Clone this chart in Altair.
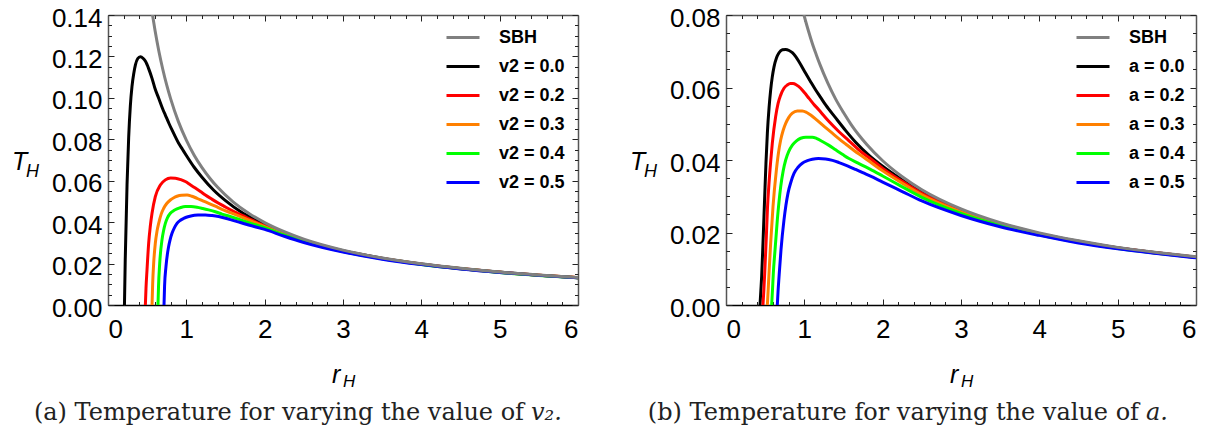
import altair as alt
import pandas as pd

# ---------------- tick positions ----------------
x_ticks = [0, 1, 2, 3, 4, 5, 6]
x_minor = [round(0.2 * i, 1) for i in range(31) if i % 5]
ya_ticks = [0.0, 0.02, 0.04, 0.06, 0.08, 0.10, 0.12, 0.14]
ya_minor = [round(0.005 * i, 3) for i in range(29) if i % 4]
yb_ticks = [0.0, 0.02, 0.04, 0.06, 0.08]
yb_minor = [round(0.005 * i, 3) for i in range(17) if i % 4]

# ---------------- panel (a): varying v2 ----------------
labels_a = ["SBH", "v2 = 0.0", "v2 = 0.2", "v2 = 0.3", "v2 = 0.4", "v2 = 0.5"]

ra_sbh = [0.568, 0.6, 0.65, 0.7, 0.75, 0.8, 0.9, 1.0, 1.1, 1.2, 1.3, 1.4, 1.6, 1.8, 2.0,
          2.25, 2.5, 3.0, 3.5, 4.0, 4.5, 5.0, 5.5, 6.0]
Ta_sbh = [0.1401, 0.1326, 0.1224, 0.1137, 0.1061, 0.0995, 0.0884, 0.0796, 0.0723, 0.0663,
          0.0612, 0.0568, 0.0497, 0.0442, 0.0398, 0.0354, 0.0318, 0.0265, 0.0227, 0.0199,
          0.0177, 0.0159, 0.0145, 0.0133]

ra_0 = [0.21, 0.22, 0.243, 0.264, 0.285, 0.306, 0.33, 0.35, 0.38, 0.413, 0.45, 0.48, 0.52,
        0.562, 0.60, 0.647, 0.70, 0.732, 0.78, 0.817, 0.86, 0.902, 0.95, 1.0, 1.1, 1.2, 1.35,
        1.5, 1.7, 1.85, 2.0, 2.25, 2.5, 3.0, 3.5, 4.0, 4.5, 5.0, 5.5, 6.0]
Ta_0 = [0.0, 0.0217, 0.058, 0.081, 0.096, 0.1054, 0.1120, 0.1159, 0.119, 0.1199, 0.119,
        0.1175, 0.1140, 0.1094, 0.1045, 0.0998, 0.0945, 0.0917, 0.0875, 0.0845, 0.0812,
        0.0781, 0.0752, 0.0722, 0.0665, 0.0617, 0.0554, 0.0504, 0.0449, 0.0417, 0.0388,
        0.0346, 0.0313, 0.0262, 0.0226, 0.0198, 0.0176, 0.0159, 0.0144, 0.0132]

ra_2 = [0.477, 0.485, 0.498, 0.519, 0.54, 0.562, 0.604, 0.668, 0.732, 0.80, 0.86, 0.93,
        0.987, 1.05, 1.115, 1.18, 1.243, 1.33, 1.413, 1.5, 1.583, 1.753, 2.0, 2.25, 2.5,
        3.0, 3.5, 4.0, 4.5, 5.0, 5.5, 6.0]
Ta_2 = [0.0, 0.008, 0.0169, 0.0298, 0.038, 0.0443, 0.0523, 0.0579, 0.0604, 0.0613, 0.0612,
        0.0605, 0.0596, 0.0581, 0.0565, 0.0548, 0.0531, 0.0510, 0.0491, 0.0473, 0.0456,
        0.0425, 0.0382, 0.0344, 0.0311, 0.0261, 0.0225, 0.0197, 0.0176, 0.0158, 0.0144, 0.0132]

ra_3 = [0.562, 0.57, 0.583, 0.604, 0.625, 0.647, 0.68, 0.711, 0.75, 0.796, 0.84, 0.881,
        0.94, 1.009, 1.07, 1.136, 1.21, 1.285, 1.37, 1.455, 1.56, 1.668, 1.83, 2.0, 2.25,
        2.5, 3.0, 3.5, 4.0, 4.5, 5.0, 5.5, 6.0]
Ta_3 = [0.0, 0.010, 0.0201, 0.0298, 0.0355, 0.0394, 0.0440, 0.0467, 0.0490, 0.0507, 0.0518,
        0.0525, 0.0530, 0.0531, 0.0525, 0.0515, 0.0503, 0.0491, 0.0477, 0.0462, 0.0446,
        0.0430, 0.0405, 0.0378, 0.0341, 0.0309, 0.0260, 0.0224, 0.0197, 0.0175, 0.0158,
        0.0144, 0.0132]

ra_4 = [0.638, 0.645, 0.66, 0.689, 0.71, 0.732, 0.76, 0.796, 0.84, 0.881, 0.93, 0.987,
        1.06, 1.136, 1.21, 1.285, 1.37, 1.455, 1.56, 1.668, 1.83, 2.0, 2.25, 2.5, 3.0,
        3.5, 4.0, 4.5, 5.0, 5.5, 6.0]
Ta_4 = [0.0, 0.009, 0.0201, 0.0314, 0.0360, 0.0394, 0.0422, 0.0443, 0.0456, 0.0464, 0.0471,
        0.0475, 0.0475, 0.0472, 0.0466, 0.0459, 0.0450, 0.0439, 0.0427, 0.0414, 0.0393,
        0.0373, 0.0338, 0.0306, 0.0258, 0.0223, 0.0196, 0.0175, 0.0157, 0.0143, 0.0131]

ra_5 = [0.715, 0.722, 0.74, 0.774, 0.795, 0.817, 0.85, 0.881, 0.92, 0.966, 1.02, 1.072,
        1.15, 1.243, 1.33, 1.413, 1.5, 1.583, 1.69, 1.796, 2.0, 2.25, 2.5, 3.0, 3.5, 4.0,
        4.5, 5.0, 5.5, 6.0]
Ta_5 = [0.0, 0.009, 0.0185, 0.0282, 0.0318, 0.0346, 0.0375, 0.0394, 0.0408, 0.0418, 0.0426,
        0.0431, 0.0434, 0.0435, 0.0432, 0.0427, 0.0419, 0.0410, 0.0398, 0.0386, 0.0365,
        0.0332, 0.0302, 0.0256, 0.0221, 0.0195, 0.0174, 0.0157, 0.0143, 0.0131]

# ---------------- panel (b): varying a ----------------
labels_b = ["SBH", "a = 0.0", "a = 0.2", "a = 0.3", "a = 0.4", "a = 0.5"]

rb_sbh = [0.995, 1.05, 1.1, 1.15, 1.2, 1.3, 1.4, 1.5, 1.6, 1.8, 2.0, 2.25, 2.5, 3.0, 3.5,
          4.0, 4.5, 5.0, 5.5, 6.0]
Tb_sbh = [0.0800, 0.0758, 0.0723, 0.0692, 0.0663, 0.0612, 0.0568, 0.0531, 0.0497, 0.0442,
          0.0398, 0.0354, 0.0318, 0.0265, 0.0227, 0.0199, 0.0177, 0.0159, 0.0145, 0.0133]

rb_0 = [0.434, 0.445, 0.455, 0.472, 0.494, 0.51, 0.528, 0.55, 0.570, 0.59, 0.613, 0.645,
        0.677, 0.72, 0.762, 0.805, 0.847, 0.89, 0.932, 1.017, 1.08, 1.145, 1.21, 1.272,
        1.40, 1.528, 1.655, 1.826, 2.0, 2.25, 2.5, 3.0, 3.5, 4.0, 4.5, 5.0, 5.5, 6.0]
Tb_0 = [0.0, 0.004, 0.0078, 0.0170, 0.0299, 0.0390, 0.0474, 0.0545, 0.0593, 0.0628, 0.0657,
        0.0682, 0.0696, 0.0704, 0.0705, 0.0702, 0.0696, 0.0685, 0.0671, 0.0639, 0.0616,
        0.0593, 0.0572, 0.0552, 0.0516, 0.0481, 0.0449, 0.0413, 0.0383, 0.0345, 0.0311,
        0.0261, 0.0225, 0.0197, 0.0176, 0.0158, 0.0144, 0.0132]

rb_2 = [0.472, 0.483, 0.494, 0.515, 0.53, 0.549, 0.57, 0.591, 0.634, 0.665, 0.698, 0.74,
        0.783, 0.82, 0.855, 0.90, 0.953, 1.0, 1.06, 1.12, 1.187, 1.25, 1.315, 1.443, 1.570,
        1.74, 1.84, 2.0, 2.25, 2.5, 3.0, 3.5, 4.0, 4.5, 5.0, 5.5, 6.0]
Tb_2 = [0.0, 0.004, 0.0087, 0.0189, 0.0270, 0.0336, 0.0395, 0.0446, 0.0520, 0.0556, 0.0579,
        0.0598, 0.0607, 0.0611, 0.0611, 0.0607, 0.0598, 0.0586, 0.0570, 0.0554, 0.0538,
        0.0522, 0.0506, 0.0478, 0.0453, 0.0420, 0.0404, 0.0377, 0.0341, 0.0308, 0.0259,
        0.0224, 0.0196, 0.0175, 0.0157, 0.0144, 0.0132]

rb_3 = [0.528, 0.538, 0.549, 0.570, 0.60, 0.643, 0.67, 0.698, 0.73, 0.762, 0.80, 0.847,
        0.91, 0.974, 1.03, 1.081, 1.145, 1.209, 1.28, 1.357, 1.44, 1.528, 1.63, 1.74,
        1.838, 2.0, 2.25, 2.5, 3.0, 3.5, 4.0, 4.5, 5.0, 5.5, 6.0]
Tb_3 = [0.0, 0.004, 0.0087, 0.0170, 0.0271, 0.0372, 0.0420, 0.0455, 0.0482, 0.0501, 0.0517,
        0.0529, 0.0535, 0.0535, 0.0531, 0.0524, 0.0513, 0.0501, 0.0488, 0.0474, 0.0459,
        0.0444, 0.0427, 0.0410, 0.0395, 0.0370, 0.0336, 0.0304, 0.0257, 0.0222, 0.0195,
        0.0174, 0.0157, 0.0143, 0.0131]

rb_4 = [0.583, 0.593, 0.604, 0.626, 0.655, 0.698, 0.73, 0.762, 0.80, 0.847, 0.90, 0.953,
        1.02, 1.102, 1.16, 1.23, 1.31, 1.40, 1.49, 1.57, 1.68, 1.783, 1.838, 2.0, 2.25,
        2.5, 3.0, 3.5, 4.0, 4.5, 5.0, 5.5, 6.0]
Tb_4 = [0.0, 0.004, 0.0087, 0.0152, 0.0234, 0.0326, 0.0370, 0.0400, 0.0423, 0.0441, 0.0453,
        0.0460, 0.0463, 0.0463, 0.0459, 0.0451, 0.0441, 0.0428, 0.0415, 0.0404, 0.0392,
        0.0381, 0.0375, 0.0356, 0.0326, 0.0297, 0.0253, 0.0220, 0.0194, 0.0173, 0.0156,
        0.0143, 0.0131]

rb_5 = [0.655, 0.665, 0.677, 0.702, 0.74, 0.765, 0.791, 0.83, 0.868, 0.92, 0.974, 1.04,
        1.102, 1.18, 1.272, 1.36, 1.443, 1.55, 1.655, 1.745, 1.838, 2.0, 2.25, 2.5, 3.0,
        3.5, 4.0, 4.5, 5.0, 5.5, 6.0]
Tb_5 = [0.0, 0.004, 0.0078, 0.0152, 0.0234, 0.0275, 0.0308, 0.0340, 0.0363, 0.0380, 0.0391,
        0.0398, 0.0402, 0.0404, 0.0403, 0.0399, 0.0393, 0.0384, 0.0374, 0.0365, 0.0356,
        0.0339, 0.0313, 0.0287, 0.0247, 0.0216, 0.0192, 0.0171, 0.0155, 0.0142, 0.0130]

colors = ["#808080", "#000000", "#FF0000", "#FF8000", "#00FF00", "#0000FF"]

PW, H = 470, 290          # one panel's plot area
GAP = 148                  # gap between the two plot areas
TW = 2 * PW + GAP          # whole layered view width
SANS = "Liberation Sans"
SERIF = "DejaVu Serif"
FRAME = "#555"
TICKFONT = 26
CAPFONT = 24


def make_df(labels, rs, ts):
    rows = []
    order = [1, 2, 3, 4, 5, 0]   # SBH drawn last (on top)
    for i in order:
        for r, t in zip(rs[i], ts[i]):
            rows.append({"series": labels[i], "r": r, "T": t})
    return pd.DataFrame(rows)


def txt(text, x, y, size, font=SANS, style="normal", weight="normal", align="left",
        baseline="alphabetic", color="black"):
    return alt.Chart(pd.DataFrame({"t": [text]})).mark_text(
        font=font, fontSize=size, fontStyle=style, fontWeight=weight, align=align,
        baseline=baseline, color=color,
    ).encode(x=alt.value(x), y=alt.value(y), text="t:N")


def tick_axis(orient, values, size, offset, domain=False):
    return alt.Axis(orient=orient, values=values, tickSize=size, offset=offset, labels=False,
                    domain=domain, domainColor=FRAME, domainWidth=1.5, grid=False,
                    title=None, ticks=True, tickColor="#222", tickWidth=1)


def panel(df, labels, ymax, y_ticks, y_minor, x0, legend_x, cap_main, cap_ital, cap_x):
    x1 = x0 + PW
    xs = alt.Scale(domain=[0, 6], nice=False, zero=False, range=[x0, x1])
    ys = alt.Scale(domain=[0, ymax], nice=False, zero=False)
    lines = alt.Chart(df).mark_line(strokeWidth=3, interpolate="monotone", clip=True).encode(
        x=alt.X("r:Q", scale=xs, axis=alt.Axis(
            orient="bottom", values=x_ticks, format="d", title=None, labelFont=SANS,
            labelFontSize=TICKFONT, labelColor="black", ticks=False, tickSize=0,
            labelPadding=11, domain=True, domainColor="black", domainWidth=1.5, grid=False,
            labelBaseline="top")),
        y=alt.Y("T:Q", scale=ys, axis=alt.Axis(
            orient="left", offset=-x0, values=y_ticks, format=".2f", title=None,
            labelFont=SANS, labelFontSize=TICKFONT, labelColor="black", ticks=False,
            tickSize=0, labelPadding=6, domain=True, domainColor=FRAME, domainWidth=1.5,
            grid=False, labelBaseline="middle", labelOffset=3)),
        color=alt.Color("series:N", scale=alt.Scale(domain=labels, range=colors),
                        legend=alt.Legend(
                            title=None, orient="none", legendX=legend_x, legendY=8,
                            symbolType="stroke", symbolSize=1089, symbolStrokeWidth=3,
                            labelFont=SANS, labelFontSize=18, labelFontWeight="bold",
                            labelColor="black", labelOffset=18, rowPadding=0,
                            clipHeight=29, padding=0)),
    )
    layers = [lines]
    # inward ticks: (x orient, y orient, y offset, x values, y values, size, domain)
    specs = [
        ("top", "right", -(TW - x0), x_ticks, y_ticks, 6, False),     # bottom & left edges
        ("bottom", "left", -x1, x_ticks, y_ticks, 6, True),           # top & right edges
        ("top", "right", -(TW - x0), x_minor, y_minor, 3.5, False),
        ("bottom", "left", -x1, x_minor, y_minor, 3.5, False),
    ]
    for xo, yo, yoff, vx, vy, size, dom in specs:
        layers.append(alt.Chart(df).mark_point(opacity=0, size=1).encode(
            x=alt.X("r:Q", scale=xs, axis=tick_axis(xo, vx, size, -H, dom)),
            y=alt.Y("T:Q", scale=ys, axis=tick_axis(yo, vy, size, yoff, dom)),
        ))
    layers += [
        txt("T", x0 - 96, 155, 25, style="italic"),
        txt("H", x0 - 82, 162, 18, style="italic"),
        txt("r", x0 + 224, 368, 25, style="italic"),
        txt("H", x0 + 235, 372, 17, style="italic"),
        txt(cap_main, cap_x, 405, CAPFONT, font=SERIF, align="right", color="#222"),
        txt(cap_ital, cap_x + 7, 405, CAPFONT, font=SERIF, style="italic", color="#222"),
    ]
    return layers


df_a = make_df(labels_a, [ra_sbh, ra_0, ra_2, ra_3, ra_4, ra_5],
               [Ta_sbh, Ta_0, Ta_2, Ta_3, Ta_4, Ta_5])
df_b = make_df(labels_b, [rb_sbh, rb_0, rb_2, rb_3, rb_4, rb_5],
               [Tb_sbh, Tb_0, Tb_2, Tb_3, Tb_4, Tb_5])

XB = PW + GAP
layers_a = panel(df_a, labels_a, 0.14, ya_ticks, ya_minor, 0, 337,
                 "(a) Temperature for varying the value of", "v\u2082.", 416)
layers_b = panel(df_b, labels_b, 0.08, yb_ticks, yb_minor, XB, XB + 349,
                 "(b) Temperature for varying the value of", "a.", XB + 413)

chart = alt.layer(*(layers_a + layers_b)).resolve_scale(
    x="independent", y="independent", color="independent"
).resolve_axis(x="independent", y="independent").properties(
    width=TW, height=H,
    padding={"left": 100, "top": 7, "right": 14, "bottom": 121},
    autosize=alt.AutoSizeParams(type="none"),
).configure_view(stroke="transparent")

chart.save("out.html", embed_options={"renderer": "svg", "actions": False})
